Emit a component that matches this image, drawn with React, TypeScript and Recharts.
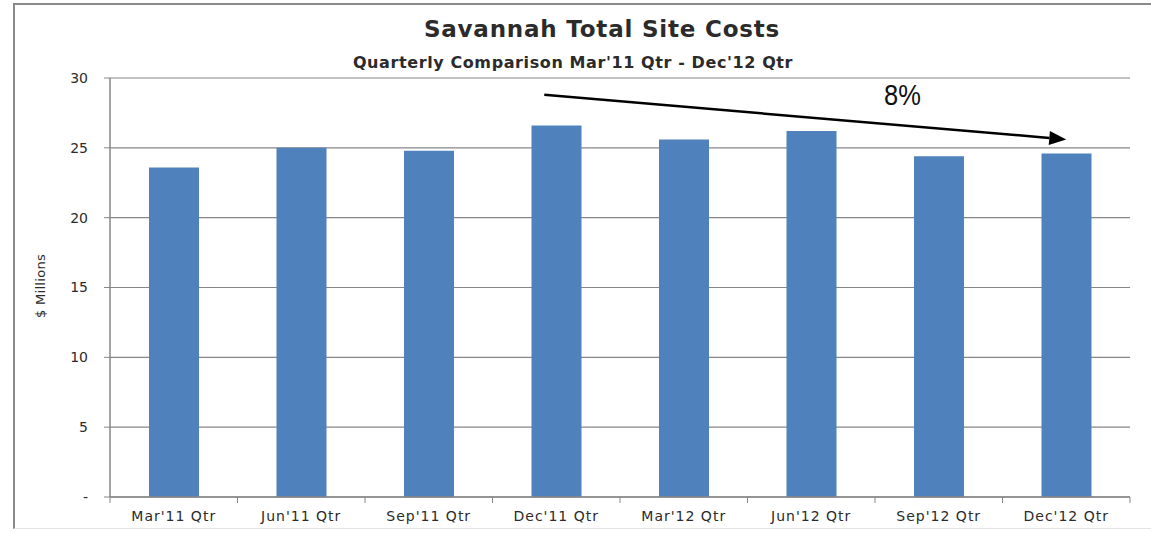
import { BarChart, Bar, XAxis, YAxis, CartesianGrid, ReferenceLine } from 'recharts'

const quarters = ["Mar'11 Qtr", "Jun'11 Qtr", "Sep'11 Qtr", "Dec'11 Qtr", "Mar'12 Qtr", "Jun'12 Qtr", "Sep'12 Qtr", "Dec'12 Qtr"]
const siteCosts = [23.6, 25.0, 24.8, 26.6, 25.6, 26.2, 24.4, 24.6]
const yTicks = [0, 5, 10, 15, 20, 25, 30]
const trendFrom = { x: "Dec'11 Qtr", y: 28.8 }
const trendTo = { x: "Dec'12 Qtr", y: 25.6 }

const data = quarters.map((q, i) => ({ quarter: q, cost: siteCosts[i] }))

const W = 1151
const H = 533
const PLOT_LEFT = 110
const PLOT_RIGHT = 1130
const HALF_BAND = (PLOT_RIGHT - PLOT_LEFT) / quarters.length / 2
const AXIS_GRAY = '#868686'
const TEXT = '#2b2b2b'
const FONT = "'DejaVu Sans', sans-serif"

function QuarterTick(props: any) {
  const { x, y, payload, index } = props
  const lineTop = y - 14
  return (
    <g>
      <line x1={x - HALF_BAND} x2={x - HALF_BAND} y1={lineTop} y2={lineTop + 6} stroke={AXIS_GRAY} />
      {index === quarters.length - 1 && (
        <line x1={x + HALF_BAND} x2={x + HALF_BAND} y1={lineTop} y2={lineTop + 6} stroke={AXIS_GRAY} />
      )}
      <text x={x} y={y} dy="0.71em" textAnchor="middle" fill={TEXT} fontSize={14} fontFamily={FONT} letterSpacing={1}>
        {payload.value}
      </text>
    </g>
  )
}

// arrow head drawn from the segment direction
function TrendArrow(props: any) {
  const { x1, y1, x2, y2 } = props
  const ang = Math.atan2(y2 - y1, x2 - x1)
  const len = 17
  const half = 7
  const bx = x2 - len * Math.cos(ang)
  const by = y2 - len * Math.sin(ang)
  const px = -Math.sin(ang) * half
  const py = Math.cos(ang) * half
  return (
    <g>
      <line x1={x1 - 12} y1={y1} x2={bx} y2={by} stroke="#000" strokeWidth={2.5} />
      <polygon points={`${x2},${y2} ${bx + px},${by + py} ${bx - px},${by - py}`} fill="#000" />
    </g>
  )
}

export default function App() {
  return (
    <div style={{ position: 'relative', width: W, height: H, background: '#fff', overflow: 'hidden' }}>
      <style>{'body{margin:0}'}</style>
      <div style={{ position: 'absolute', left: 13, top: 3, right: -2, bottom: 4, borderTop: '2px solid #8a8a8a', borderLeft: '2px solid #8a8a8a', borderBottom: '1px solid #e4e4e4' }} />

      <div style={{ position: 'absolute', left: 0, width: 1204, top: 16, textAlign: 'center', fontFamily: FONT, fontWeight: 'bold', fontSize: 23, letterSpacing: 0.8, color: TEXT }}>
        Savannah Total Site Costs
      </div>
      <div style={{ position: 'absolute', left: 0, width: 1146, top: 53, textAlign: 'center', fontFamily: FONT, fontWeight: 'bold', fontSize: 16, letterSpacing: 0.6, color: TEXT }}>
        Quarterly Comparison Mar'11 Qtr - Dec'12 Qtr
      </div>
      <div style={{ position: 'absolute', left: 40, top: 286, transform: 'translate(-50%, -50%) rotate(-90deg)', whiteSpace: 'nowrap', fontFamily: FONT, fontSize: 13, letterSpacing: 0.3, color: TEXT }}>
        $ Millions
      </div>
      <div style={{ position: 'absolute', left: 884, top: 78, transform: 'scaleX(0.85)', transformOrigin: 'left top', fontFamily: "'Liberation Sans Narrow', 'Arial Narrow', 'Liberation Sans', sans-serif", fontSize: 30, color: '#111' }}>
        8%
      </div>

      <BarChart
        width={W}
        height={H}
        data={data}
        margin={{ top: 78, right: W - PLOT_RIGHT, bottom: 0, left: 10 }}
        barSize={50}
        style={{ position: 'absolute', left: 0, top: 0 }}
      >
        <CartesianGrid horizontal vertical={false} stroke={AXIS_GRAY} strokeWidth={1.2} />
        <XAxis
          dataKey="quarter"
          height={36}
          tickLine={false}
          tickSize={6}
          tickMargin={8}
          axisLine={{ stroke: AXIS_GRAY, strokeWidth: 1.5 }}
          interval={0}
          tick={<QuarterTick />}
        />
        <YAxis
          width={100}
          domain={[0, 30]}
          ticks={yTicks}
          interval={0}
          tickSize={6}
          tickMargin={16}
          tickFormatter={(v: number) => (v === 0 ? '-' : String(v))}
          tick={{ fill: TEXT, fontSize: 14, fontFamily: FONT }}
          tickLine={{ stroke: AXIS_GRAY }}
          axisLine={{ stroke: AXIS_GRAY, strokeWidth: 1.5 }}
        />
        <Bar dataKey="cost" fill="#4f81bd" isAnimationActive={false} />
        <ReferenceLine segment={[trendFrom, trendTo]} ifOverflow="visible" shape={<TrendArrow />} />
      </BarChart>
    </div>
  )
}
